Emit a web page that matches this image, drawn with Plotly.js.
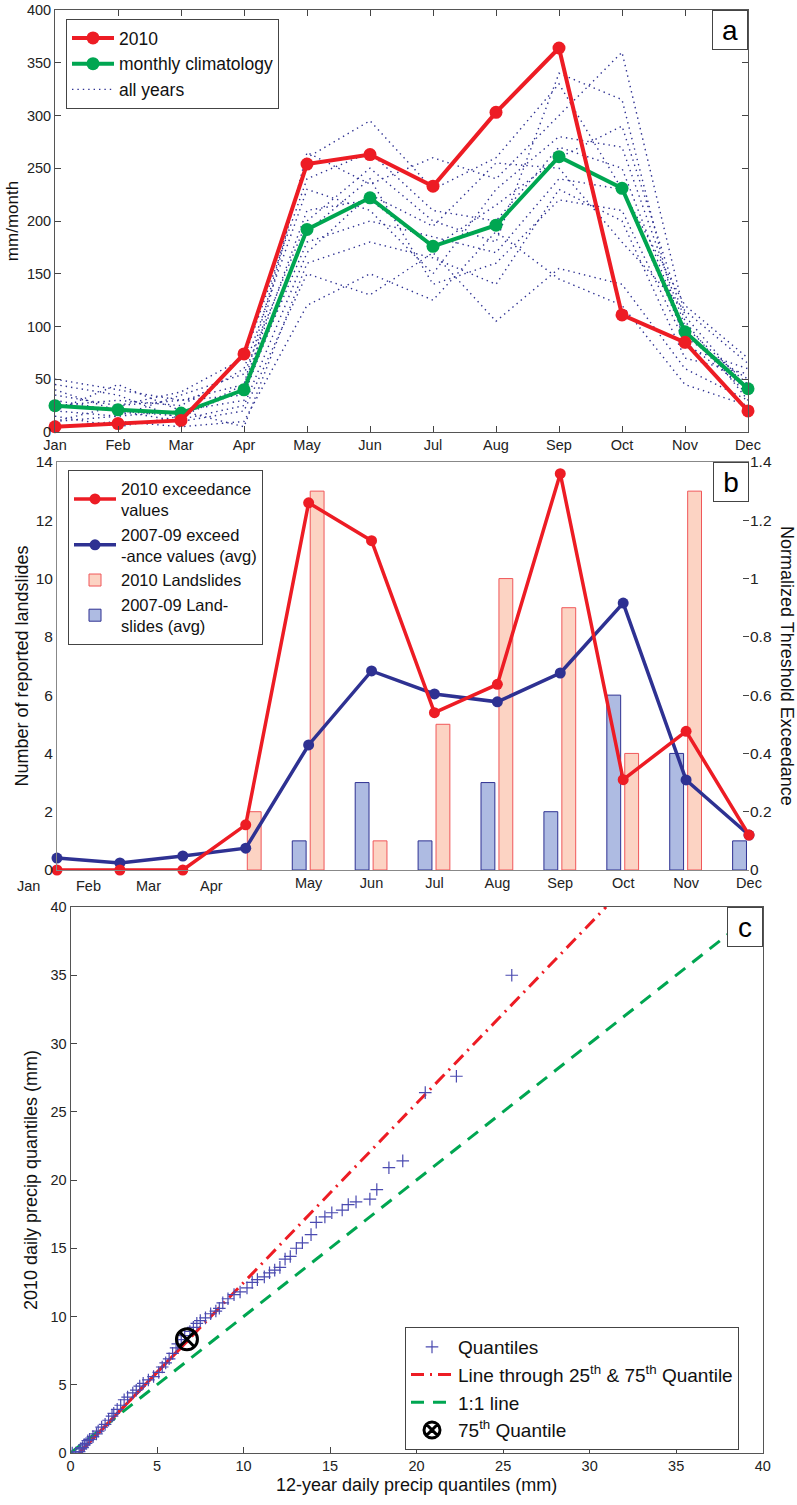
<!DOCTYPE html>
<html><head><meta charset="utf-8">
<script src="https://cdn.plot.ly/plotly-3.0.1.min.js"></script>
<style>html,body{margin:0;padding:0;background:#fff}#chart{width:797px;height:1505px}</style>
</head><body><div id="chart"></div>
<script>
// ---------- data ----------
const months = ['Jan','Feb','Mar','Apr','May','Jun','Jul','Aug','Sep','Oct','Nov','Dec'];
const monthNum = [1,2,3,4,5,6,7,8,9,10,11,12];

// panel a (mm/month)
const rain2010 = [5, 8, 11, 74, 254, 263, 233, 303, 364, 111, 85, 20];
const climatology = [25, 21, 18, 40, 192, 222, 176, 196, 261, 231, 95, 41];
const allYears = [
  [50, 40, 30, 45, 260, 295, 230, 260, 330, 230, 90, 50],
  [20, 45, 20, 30, 265, 235, 260, 240, 300, 360, 110, 40],
  [10, 15, 35, 55, 200, 250, 200, 180, 340, 315, 80, 60],
  [30, 20, 10, 20, 150, 130, 170, 105, 155, 140, 60, 30],
  [5, 10, 5, 10, 120, 150, 125, 190, 145, 120, 45, 25],
  [25, 30, 25, 60, 230, 210, 150, 230, 280, 270, 100, 45],
  [15, 5, 15, 40, 180, 200, 185, 170, 240, 230, 120, 70],
  [35, 25, 38, 70, 240, 265, 210, 200, 270, 250, 95, 35],
  [20, 15, 20, 5, 160, 180, 165, 140, 230, 200, 70, 55],
  [40, 20, 15, 45, 210, 220, 175, 215, 260, 290, 105, 30],
  [10, 25, 30, 35, 190, 240, 140, 160, 220, 210, 85, 40],
  [45, 35, 12, 25, 170, 225, 195, 255, 250, 180, 115, 65]
];

// panel b
const exceed2010 = [0, 0, 0, 0.155, 1.26, 1.13, 0.54, 0.637, 1.36, 0.31, 0.476, 0.12];
const exceed0709 = [0.041, 0.024, 0.048, 0.075, 0.429, 0.683, 0.604, 0.577, 0.676, 0.916, 0.309, 0.12];
const slides2010 = [null, null, null, 2, 13, 1, 5, 10, 9, 4, 13, null];
const slides0709 = [null, null, null, null, 1, 3, 1, 3, 2, 6, 4, 1];
const bTickVals = [5,6,7,8,9,10,11,12];
const bTickText = ['May','Jun','Jul','Aug','Sep','Oct','Nov','Dec'];
const bEarlyLabels = ['Jan','Feb','Mar','Apr'];

// panel c
const qx = [0.1,0.3,0.5,0.6,0.7,0.8,0.9,1.0,1.1,1.3,1.5,1.6,1.8,2.0,2.2,2.4,2.5,2.7,2.9,3.1,3.3,3.6,3.8,4.0,4.2,4.5,4.8,5.1,5.3,5.5,5.7,5.9,6.1,6.2,6.4,6.6,6.9,7.1,7.3,7.5,7.8,8.1,8.4,8.6,8.8,9.1,9.45,9.8,10.2,10.5,10.8,11.2,11.5,11.8,12.1,12.4,12.7,13.05,13.4,13.9,14.2,14.7,15.1,15.7,16.05,16.5,17.3,17.7,18.4,19.2,20.5,22.3,25.5];
const qy = [0,0,0.1,0.3,0.4,0.6,0.7,0.9,1.0,1.2,1.4,1.6,1.9,2.1,2.4,2.7,2.9,3.2,3.5,3.9,4.1,4.4,4.6,4.9,5.1,5.35,5.6,5.9,6.3,6.6,6.9,7.3,7.7,8.0,8.3,8.6,8.9,9.2,9.5,9.7,9.9,10.2,10.4,10.6,11.0,11.3,11.6,11.8,12.1,12.5,12.7,12.9,13.2,13.4,13.6,14.2,14.4,15.0,15.4,16.0,16.9,17.3,17.6,17.8,18.2,18.4,18.6,19.3,20.9,21.4,26.4,27.6,35.0];
const q75x = [6.73], q75y = [8.33];
const refLineX = [0.5, 6.73, 30.95], refLineY = [0, 8.18, 40];
const oneToOne = [0, 40];

// ---------- styles ----------
const RED = '#ed1c24', GREEN = '#00a651', NAVY = '#2e3192';
const FONT = '"Liberation Sans", Arial, Helvetica, sans-serif';
const W = 797, H = 1505;
const px = v => v / W, py = v => 1 - v / H;

const traces = [];
// panel a
allYears.forEach((yr, i) => traces.push({
  x: monthNum, y: yr, xaxis: 'x', yaxis: 'y', type: 'scatter', mode: 'lines',
  line: {color: NAVY, width: 1.4, dash: '1.4px,4px'}, name: 'all years',
  legend: 'legend', legendgroup: 'ally', showlegend: i === 0, legendrank: 3, hoverinfo: 'skip'
}));
traces.push({x: monthNum, y: climatology, xaxis: 'x', yaxis: 'y', type: 'scatter', mode: 'lines+markers',
  line: {color: GREEN, width: 4}, marker: {color: GREEN, size: 13}, cliponaxis: false,
  name: 'monthly climatology', legend: 'legend', legendrank: 2});
traces.push({x: monthNum, y: rain2010, xaxis: 'x', yaxis: 'y', type: 'scatter', mode: 'lines+markers',
  line: {color: RED, width: 4}, marker: {color: RED, size: 13}, cliponaxis: false,
  name: '2010', legend: 'legend', legendrank: 1});

// panel b
traces.push({x: monthNum, y: slides0709, xaxis: 'x2', yaxis: 'y2', type: 'bar', offset: -0.26, width: 0.22,
  marker: {color: '#aebbe2', line: {color: NAVY, width: 1}},
  name: '2007-09 Land-<br>slides (avg)', legend: 'legend2', legendrank: 4});
traces.push({x: monthNum, y: slides2010, xaxis: 'x2', yaxis: 'y2', type: 'bar', offset: 0.025, width: 0.22,
  marker: {color: '#fcd3c3', line: {color: '#f0575a', width: 1}},
  name: '2010 Landslides', legend: 'legend2', legendrank: 3});
traces.push({x: monthNum, y: exceed0709, xaxis: 'x2', yaxis: 'y3', type: 'scatter', mode: 'lines+markers',
  line: {color: NAVY, width: 3.5}, marker: {color: NAVY, size: 11}, cliponaxis: false,
  name: '2007-09 exceed<br>-ance values (avg)', legend: 'legend2', legendrank: 2});
traces.push({x: monthNum, y: exceed2010, xaxis: 'x2', yaxis: 'y3', type: 'scatter', mode: 'lines+markers',
  line: {color: RED, width: 3.5}, marker: {color: RED, size: 11}, cliponaxis: false,
  name: '2010 exceedance<br>values', legend: 'legend2', legendrank: 1});

// panel c
traces.push({x: oneToOne, y: oneToOne, xaxis: 'x4', yaxis: 'y4', type: 'scatter', mode: 'lines',
  line: {color: GREEN, width: 3, dash: '13px,9px'}, name: '1:1 line', legend: 'legend3', legendrank: 3});
traces.push({x: refLineX.slice(0, 2), y: refLineY.slice(0, 2), xaxis: 'x4', yaxis: 'y4', type: 'scatter', mode: 'lines',
  line: {color: RED, width: 3}, showlegend: false, hoverinfo: 'skip'});
traces.push({x: refLineX, y: refLineY, xaxis: 'x4', yaxis: 'y4', type: 'scatter', mode: 'lines',
  line: {color: RED, width: 3, dash: '13px,6px,2px,6px'},
  name: 'Line through 25<sup>th</sup> & 75<sup>th</sup> Quantile', legend: 'legend3', legendrank: 2});
traces.push({x: qx, y: qy, xaxis: 'x4', yaxis: 'y4', type: 'scatter', mode: 'markers',
  marker: {symbol: 'cross-thin-open', size: 9, color: '#4a4ab0', line: {color: '#4a4ab0', width: 1.2}},
  name: 'Quantiles', legend: 'legend3', legendrank: 1});
traces.push({x: q75x, y: q75y, xaxis: 'x4', yaxis: 'y4', type: 'scatter', mode: 'markers',
  marker: {symbol: 'circle-x-open', size: 21, color: '#000', line: {color: '#000', width: 3}},
  name: '75<sup>th</sup> Quantile', legend: 'legend3', legendrank: 4});

const axBase = {showline: true, linecolor: '#555', linewidth: 1, zeroline: false, showgrid: false,
  tickfont: {family: FONT, size: 14.5, color: '#222'}, tickcolor: '#444', ticklen: 6};
const legBase = {bgcolor: '#fff', bordercolor: '#444', borderwidth: 1, xanchor: 'left', yanchor: 'top',
  itemwidth: 42, font: {family: FONT, size: 17.5, color: '#111'}, traceorder: 'normal'};
const boxLabel = (t, xr, yt) => ({text: t, xref: 'paper', yref: 'paper', x: px(xr), y: py(yt),
  xanchor: 'right', yanchor: 'top', showarrow: false, font: {family: FONT, size: 28, color: '#000'},
  bgcolor: '#fff', bordercolor: '#444', borderwidth: 1, width: 30, height: 34, borderpad: 2});

const layout = {
  width: W, height: H, margin: {l: 0, r: 0, t: 0, b: 0}, paper_bgcolor: '#fff', plot_bgcolor: 'rgba(0,0,0,0)',
  font: {family: FONT, color: '#111'}, showlegend: true, barmode: 'overlay',
  xaxis: Object.assign({}, axBase, {domain: [px(55), px(748)], anchor: 'y', range: [1, 12],
    tickvals: monthNum, ticktext: months, ticks: 'inside', mirror: 'ticks'}),
  yaxis: Object.assign({}, axBase, {domain: [py(432), py(10)], anchor: 'x', range: [0, 400], dtick: 50,
    ticks: 'inside', mirror: 'ticks',
    title: {text: 'mm/month', font: {family: FONT, size: 17, color: '#111'}, standoff: 3}}),
  xaxis2: Object.assign({}, axBase, {domain: [px(57), px(749)], anchor: 'y2', range: [1, 12],
    tickvals: bTickVals, ticktext: bTickText, ticks: '', mirror: true, linecolor: '#888'}),
  yaxis2: Object.assign({}, axBase, {domain: [py(870), py(462)], anchor: 'x2', range: [0, 14], dtick: 2,
    ticks: '', linecolor: '#888', tickfont: {family: FONT, size: 15.5, color: '#222'},
    title: {text: 'Number of reported landslides', font: {family: FONT, size: 18, color: '#111'}, standoff: 2}}),
  yaxis3: Object.assign({}, axBase, {overlaying: 'y2', side: 'right', anchor: 'x2', range: [0, 1.4], dtick: 0.2,
    ticks: 'inside', showline: false, tickfont: {family: FONT, size: 15.5, color: '#222'}}),
  xaxis4: Object.assign({}, axBase, {domain: [px(70.5), px(762.7)], anchor: 'y4', range: [0, 40], dtick: 5,
    ticks: 'inside', mirror: true,
    title: {text: '12-year daily precip quantiles (mm)', font: {family: FONT, size: 18, color: '#111'}, standoff: 4}}),
  yaxis4: Object.assign({}, axBase, {domain: [py(1453), py(907)], anchor: 'x4', range: [0, 40], dtick: 5,
    ticks: 'inside', mirror: true,
    title: {text: '2010 daily precip quantiles (mm)', font: {family: FONT, size: 18, color: '#111'}, standoff: 8}}),
  legend: Object.assign({}, legBase, {x: px(66), y: py(19)}),
  legend2: Object.assign({}, legBase, {x: px(68), y: py(470), font: {family: FONT, size: 16.5, color: '#111'}}),
  legend3: Object.assign({}, legBase, {x: px(405), y: py(1327), font: {family: FONT, size: 19, color: '#111'}}),
  annotations: [
    boxLabel('a', 748, 10), boxLabel('b', 749, 462), boxLabel('c', 762.7, 907),
    {text: 'Normalized Threshold Exceedance', textangle: 90, xref: 'paper', yref: 'paper', x: px(787), y: py(666),
      xanchor: 'center', yanchor: 'middle', showarrow: false, font: {family: FONT, size: 18, color: '#111'}},
    ...bEarlyLabels.map((m, i) => ({text: m, xref: 'paper', yref: 'paper',
      x: px([28, 88, 148, 212][i]), y: py(886), xanchor: 'center', yanchor: 'middle', showarrow: false,
      font: {family: FONT, size: 14.5, color: '#222'}}))
  ]
};
Plotly.newPlot('chart', traces, layout, {displayModeBar: false, staticPlot: true});
</script></body></html>
